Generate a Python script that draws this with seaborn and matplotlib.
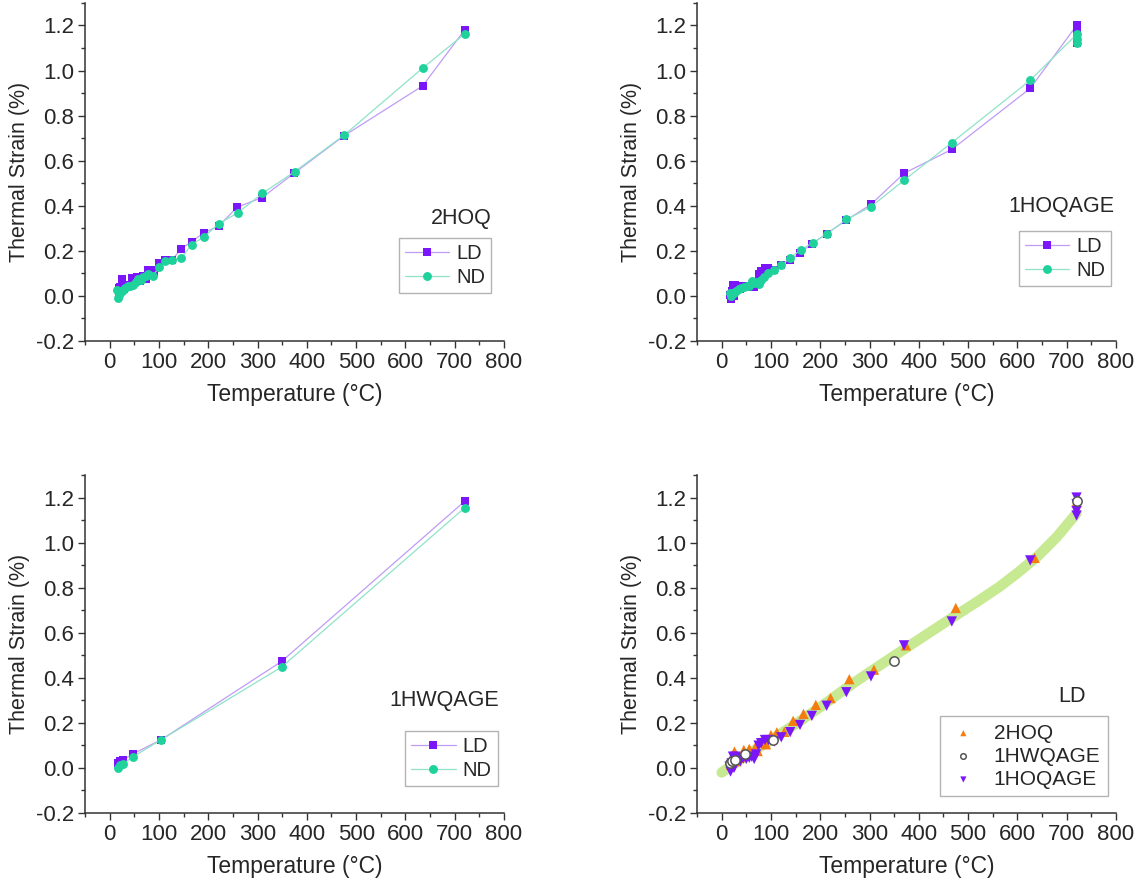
import numpy as np
import seaborn as sns
from matplotlib import pyplot as plt
from matplotlib.ticker import MultipleLocator

# ---- data ----
hoq2_ld_t = [18, 19, 20, 22, 26, 30, 34, 40, 45, 50, 56, 62, 68, 73, 78, 85, 90,
             100, 112, 127, 145, 166, 191, 221, 259, 309, 374, 475, 635, 720]
hoq2_ld_s = [0.035, 0.015, 0.04, 0.025, 0.073, 0.03, 0.045, 0.05, 0.08, 0.06, 0.085,
             0.065, 0.09, 0.075, 0.114, 0.114, 0.105, 0.146, 0.158, 0.16, 0.209,
             0.24, 0.28, 0.31, 0.394, 0.436, 0.544, 0.71, 0.932, 1.18]
hoq2_nd_t = [14, 17, 19, 21, 24, 27, 31, 37, 42, 47, 53, 58, 63, 68, 73, 78, 88,
             100, 112, 127, 145, 166, 191, 222, 260, 310, 375, 476, 636, 721]
hoq2_nd_s = [0.028, -0.009, 0.006, 0.015, 0.02, 0.028, 0.035, 0.043, 0.045, 0.05,
             0.06, 0.073, 0.07, 0.084, 0.088, 0.095, 0.09, 0.127, 0.154, 0.161,
             0.166, 0.228, 0.261, 0.321, 0.369, 0.455, 0.551, 0.714, 1.013, 1.164]

hoqage_ld_t = [16, 18, 20, 23, 25, 28, 32, 38, 44, 50, 56, 61, 66, 70, 75, 80, 88,
               95, 107, 121, 139, 159, 183, 213, 253, 303, 370, 467, 626,
               720, 720, 720, 720]
hoqage_ld_s = [0.005, -0.016, 0.02, 0.05, 0.0, 0.05, 0.04, 0.03, 0.043, 0.04, 0.045,
               0.05, 0.04, 0.06, 0.099, 0.11, 0.124, 0.124, 0.117, 0.136, 0.159,
               0.191, 0.231, 0.276, 0.336, 0.406, 0.544, 0.65, 0.921,
               1.2, 1.17, 1.14, 1.12]
hoqage_nd_t = [16, 18, 21, 25, 30, 35, 39, 45, 51, 56, 61, 66, 70, 75, 80, 85, 95,
               107, 121, 139, 160, 185, 214, 253, 303, 370, 467, 626, 720, 720, 720]
hoqage_nd_s = [0.013, -0.001, 0.013, 0.015, 0.021, 0.03, 0.036, 0.04, 0.043, 0.045,
               0.065, 0.055, 0.06, 0.053, 0.07, 0.084, 0.102, 0.114, 0.136, 0.169,
               0.203, 0.236, 0.276, 0.339, 0.396, 0.513, 0.68, 0.957, 1.16, 1.14, 1.12]

hwqage_ld_t = [16, 20, 28, 47, 105, 349, 720]
hwqage_ld_s = [0.022, 0.03, 0.037, 0.062, 0.126, 0.473, 1.183]
hwqage_nd_t = [16, 20, 28, 47, 105, 349, 720]
hwqage_nd_s = [0.0, 0.015, 0.019, 0.049, 0.126, 0.448, 1.154]

# fitted LD trend
fit_t = [0, 50, 100, 150, 200, 250, 300, 362, 463, 520, 565, 600, 641, 680, 720]
fit_s = [-0.02, 0.055, 0.125, 0.195, 0.27, 0.35, 0.425, 0.515, 0.66, 0.74, 0.806,
         0.865, 0.939, 1.025, 1.13]

LD_COLOR = "#7b16fb"
ND_COLOR = "#1fd19b"
LD_LINE = "#bf9cf7"
ND_LINE = "#8fe3c9"
ORANGE = "#f57c0e"
FIT_COLOR = "#c6e991"

TICK_FS = 16
LABEL_FS = 15.5

sns.set_style("ticks")
plt.rcParams["font.family"] = ["Liberation Sans", "DejaVu Sans"]
plt.rcParams["font.size"] = 14.5

fig = plt.figure(figsize=(11.46, 8.90), dpi=100)
w, h = 0.3656, 0.3798
positions = [(0.0742, 0.6169), (0.6082, 0.6169), (0.0742, 0.0865), (0.6082, 0.0865)]
axes = [fig.add_axes([x, y, w, h]) for x, y in positions]


def style_axis(ax):
    ax.set_xlim(-50, 800)
    ax.set_ylim(-0.2, 1.3)
    ax.xaxis.set_major_locator(MultipleLocator(100))
    ax.xaxis.set_minor_locator(MultipleLocator(50))
    ax.yaxis.set_major_locator(MultipleLocator(0.2))
    ax.yaxis.set_minor_locator(MultipleLocator(0.1))
    ax.yaxis.set_major_formatter(lambda v, p: f"{v:.1f}")
    ax.tick_params(which="major", length=5, width=1, labelsize=TICK_FS, pad=3,
                   color="#333333")
    ax.tick_params(which="minor", length=3, width=1, color="#333333")
    for side in ("top", "right"):
        ax.spines[side].set_visible(False)
    for side in ("left", "bottom"):
        ax.spines[side].set_linewidth(1.1)
        ax.spines[side].set_color("#333333")
    ax.set_xlabel("Temperature (°C)", fontsize=LABEL_FS + 1, labelpad=7)
    ax.set_ylabel("Thermal Strain (%)", fontsize=LABEL_FS, labelpad=4)


def pair_panel(ax, ld_t, ld_s, nd_t, nd_s, name, title_xy, leg_anchor):
    # thin pale connecting lines, solid markers
    sns.lineplot(x=ld_t, y=ld_s, ax=ax, sort=False, estimator=None, color=LD_LINE,
                 lw=0.9, marker="s", markersize=5.8, markeredgewidth=0,
                 markerfacecolor=LD_COLOR, label="LD")
    sns.lineplot(x=nd_t, y=nd_s, ax=ax, sort=False, estimator=None, color=ND_LINE,
                 lw=0.9, marker="o", markersize=6.4, markeredgewidth=0,
                 markerfacecolor=ND_COLOR, label="ND")
    style_axis(ax)
    ax.text(*title_xy, name, transform=ax.transAxes, ha="right", va="center",
            fontsize=15.5)
    leg = ax.legend(loc="upper right", bbox_to_anchor=leg_anchor, frameon=True,
                    fancybox=False, edgecolor="#a0a0a0", handlelength=2.2,
                    handletextpad=0.35, labelspacing=0.25, borderpad=0.3,
                    borderaxespad=0, fontsize=14.5)
    leg.get_frame().set_linewidth(1.0)


pair_panel(axes[0], hoq2_ld_t, hoq2_ld_s, hoq2_nd_t, hoq2_nd_s, "2HOQ",
           (0.97, 0.363), (0.97, 0.305))
pair_panel(axes[1], hoqage_ld_t, hoqage_ld_s, hoqage_nd_t, hoqage_nd_s, "1HOQAGE",
           (0.995, 0.399), (0.988, 0.325))
pair_panel(axes[2], hwqage_ld_t, hwqage_ld_s, hwqage_nd_t, hwqage_nd_s, "1HWQAGE",
           (0.988, 0.333), (0.985, 0.244))

# combined LD panel
ax = axes[3]
sns.lineplot(x=fit_t, y=fit_s, ax=ax, sort=False, estimator=None, color=FIT_COLOR,
             lw=7.5, solid_capstyle="round", solid_joinstyle="round", zorder=1)
sns.scatterplot(x=hoq2_ld_t, y=hoq2_ld_s, ax=ax, marker="^", s=55, color=ORANGE,
                edgecolor="none", label="2HOQ", zorder=3)
sns.scatterplot(x=hwqage_ld_t, y=hwqage_ld_s, ax=ax, marker="o", s=45, facecolor="white",
                edgecolor="#555555", linewidth=1.1, label="1HWQAGE", zorder=4)
sns.scatterplot(x=hoqage_ld_t, y=hoqage_ld_s, ax=ax, marker="v", s=55, color=LD_COLOR,
                edgecolor="none", label="1HOQAGE", zorder=3)
style_axis(ax)
ax.text(0.896, 0.345, "LD", transform=ax.transAxes, ha="center", va="center",
        fontsize=15.5)
leg = ax.legend(loc="upper right", bbox_to_anchor=(0.98, 0.286), frameon=True,
                fancybox=False, edgecolor="#a0a0a0", handlelength=1.5,
                handletextpad=0.7, labelspacing=0.2, borderpad=0.35,
                borderaxespad=0, fontsize=15, markerscale=0.6)
leg.get_frame().set_linewidth(1.0)

fig.savefig("out.png", dpi=100)
